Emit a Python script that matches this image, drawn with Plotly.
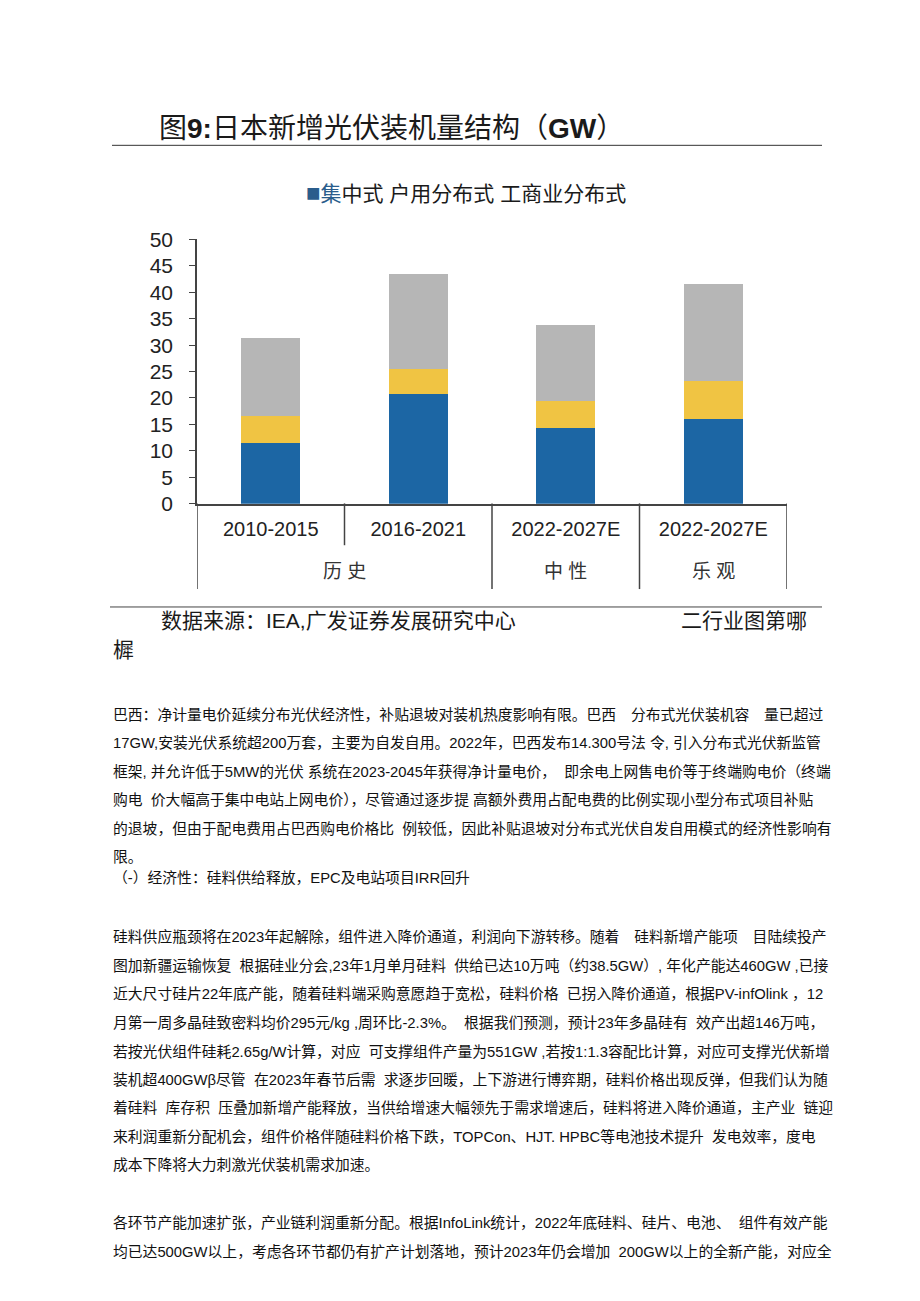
import plotly.graph_objects as go

# page is 920x1301; the html body adds an 8px margin, so the figure is made
# 16px smaller and every page pixel position is shifted by 8
PAGE_W, PAGE_H = 920, 1301
W, H = PAGE_W - 16, PAGE_H - 16

periods = ['2010-2015', '2016-2021', '2022-2027E', '2022-2027E']
groups = ['历史', '中性', '乐观']
group_pos = [0.5, 2, 3]

centralized = [11.4, 20.7, 14.4, 16.0]
residential = [5.1, 4.8, 5.1, 7.2]
commercial = [14.8, 18.0, 14.3, 18.4]

series_names = ['集中式', '户用分布式', '工商业分布式']
colors = ['#1c66a4', '#f0c443', '#b6b6b6']

title_text = '图<b>9:</b>日本新增光伏装机量结构（<b>GW</b>）'
source_text = '数据来源：IEA,广发证券发展研究中心'
source_right = '二行业图第哪'
source_tail = '樨'

para1 = [
    '巴西：净计量电价延续分布光伏经济性，补贴退坡对装机热度影响有限。巴西　分布式光伏装机容　量已超过',
    '17GW,安装光伏系统超200万套，主要为自发自用。2022年，巴西发布14.300号法 令, 引入分布式光伏新监管',
    '框架, 并允许低于5MW的光伏 系统在2023-2045年获得净计量电价，  即余电上网售电价等于终端购电价（终端',
    '购电  价大幅高于集中电站上网电价），尽管通过逐步提 高额外费用占配电费的比例实现小型分布式项目补贴',
    '的退坡，但由于配电费用占巴西购电价格比  例较低，因此补贴退坡对分布式光伏自发自用模式的经济性影响有',
    '限。',
]
heading = '（-）经济性：硅料供给释放，EPC及电站项目IRR回升'
para2 = [
    '硅料供应瓶颈将在2023年起解除，组件进入降价通道，利润向下游转移。随着　硅料新增产能项　目陆续投产',
    '图加新疆运输恢复  根据硅业分会,23年1月单月硅料  供给已达10万吨（约38.5GW）, 年化产能达460GW ,已接',
    '近大尺寸硅片22年底产能，随着硅料端采购意愿趋于宽松，硅料价格  已拐入降价通道，根据PV-infOlink ，12',
    '月第一周多晶硅致密料均价295元/kg ,周环比-2.3%。  根据我们预测，预计23年多晶硅有  效产出超146万吨，',
    '若按光伏组件硅耗2.65g/W计算，对应  可支撑组件产量为551GW ,若按1:1.3容配比计算，对应可支撑光伏新增',
    '装机超400GWβ尽管  在2023年春节后需  求逐步回暖，上下游进行博弈期，硅料价格出现反弹，但我们认为随',
    '着硅料  库存积  压叠加新增产能释放，当供给增速大幅领先于需求增速后，硅料将进入降价通道，主产业  链迎',
    '来利润重新分配机会，组件价格伴随硅料价格下跌，TOPCon、HJT. HPBC等电池技术提升  发电效率，度电',
    '成本下降将大力刺激光伏装机需求加速。',
]
para3 = [
    '各环节产能加速扩张，产业链利润重新分配。根据InfoLink统计，2022年底硅料、硅片、电池、  组件有效产能',
    '均已达500GW以上，考虑各环节都仍有扩产计划落地，预计2023年仍会增加  200GW以上的全新产能，对应全',
]

SANS = 'Liberation Sans, Arial, Noto Sans CJK SC, sans-serif'


def py(px):
    # page pixel row -> paper coordinate (small empirical correction for the capture)
    t = (px - 10.8) / 0.986
    return 1 - (t - 8) / H


def px_x(px):
    return (px - 8) / W


x = list(range(len(periods)))

fig = go.Figure()
for name, vals, col in zip(series_names, [centralized, residential, commercial], colors):
    fig.add_trace(go.Bar(x=x, y=vals, name=name, marker=dict(color=col, line=dict(width=0)),
                         width=0.4, showlegend=False))

annotations = []
annotations.append(dict(text=title_text, x=px_x(157), y=py(128), xanchor='left', yanchor='middle',
                        font=dict(size=28, color='#1a1a1a', family=SANS)))
annotations.append(dict(text='<span style="color:#2a5d8c;font-size:24px">■</span>'
                             '<span style="color:#2a5d8c">集</span>中式 户用分布式 工商业分布式',
                        x=px_x(466), y=py(192), xanchor='center', yanchor='middle',
                        font=dict(size=21, color='#1a1a1a', family=SANS)))
for g, gx in zip(groups, group_pos):
    annotations.append(dict(text=' '.join(g), x=gx, xref='x', y=py(572), yanchor='middle',
                            xanchor='center',
                            font=dict(size=19, color='#333333', family=SANS)))
annotations.append(dict(text=source_text, x=px_x(159), y=py(622), xanchor='left', yanchor='middle',
                        font=dict(size=21, color='#1a1a1a', family=SANS)))
annotations.append(dict(text=source_right, x=px_x(809), y=py(622), xanchor='right', yanchor='middle',
                        font=dict(size=21, color='#1a1a1a', family=SANS)))
annotations.append(dict(text=source_tail, x=px_x(111), y=py(651), xanchor='left', yanchor='middle',
                        font=dict(size=21, color='#1a1a1a', family=SANS)))


def add_lines(lines, y0, step=28.7):
    for i, line in enumerate(lines):
        annotations.append(dict(text=line, x=px_x(111), y=py(y0 + i * step), xanchor='left',
                                yanchor='middle', font=dict(size=14.8, color='#111111', family=SANS)))


add_lines(para1, 716)
add_lines([heading], 880)
add_lines(para2, 939)
add_lines(para3, 1226)

for a in annotations:
    a.setdefault('xref', 'paper')
    a.setdefault('yref', 'paper')
    a['showarrow'] = False

shapes = [
    dict(type='line', xref='paper', yref='paper', x0=px_x(112), x1=px_x(822), y0=py(144.5), y1=py(144.5),
         line=dict(color='#333333', width=1)),
    dict(type='line', xref='paper', yref='paper', x0=px_x(110), x1=px_x(822), y0=py(608), y1=py(608),
         line=dict(color='#444444', width=1)),
    dict(type='line', xref='x', yref='paper', x0=0.5, x1=0.5, y0=py(504), y1=py(546),
         line=dict(color='#444444', width=1.5)),
]
for bx in [-0.5, 1.5, 2.5, 3.5]:
    shapes.append(dict(type='line', xref='x', yref='paper', x0=bx, x1=bx, y0=py(504), y1=py(590),
                       line=dict(color='#444444', width=1.5)))

fig.update_layout(
    width=W, height=H,
    margin=dict(l=0, r=0, t=0, b=0),
    paper_bgcolor='white', plot_bgcolor='white',
    barmode='stack',
    showlegend=False,
    annotations=annotations,
    shapes=shapes,
    xaxis=dict(domain=[px_x(197), px_x(787)], range=[-0.5, 3.5], tickvals=x, ticktext=periods,
               showline=True, linecolor='#444444', linewidth=1.5, ticks='', showgrid=False,
               zeroline=False, tickfont=dict(size=20, color='#222222', family=SANS),
               ticklabelstandoff=7),
    yaxis=dict(domain=[py(504.3), py(239)], range=[0, 50], dtick=5, showline=True,
               linecolor='#444444', linewidth=1.5, ticks='outside', ticklen=6, tickcolor='#444444',
               showgrid=False, zeroline=False, ticklabelstandoff=12,
               tickfont=dict(size=21, color='#222222', family=SANS)),
)

fig.write_html('out.html')
